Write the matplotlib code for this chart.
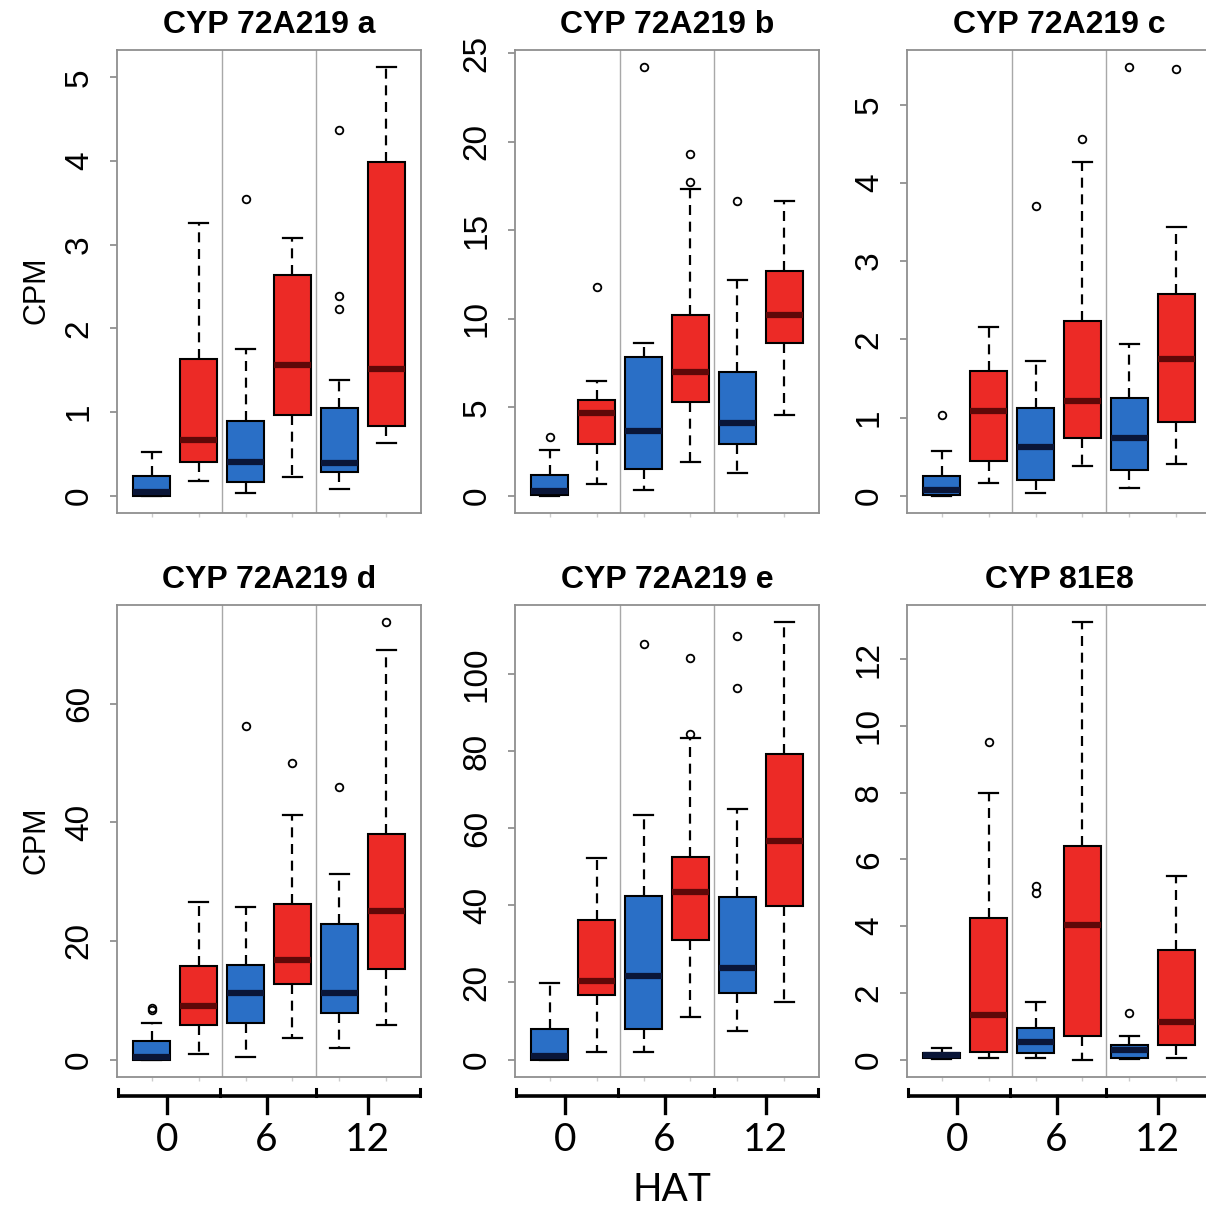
import numpy as np
import matplotlib
matplotlib.use("Agg")
import matplotlib.pyplot as plt

plt.rcParams['font.family'] = ['Liberation Sans', 'DejaVu Sans']

# box stats per panel: whisker low, Q1, median, Q3, whisker high
# order: 0 HAT blue, 0 HAT red, 6 blue, 6 red, 12 blue, 12 red
titles = ["CYP 72A219 a", "CYP 72A219 b", "CYP 72A219 c",
          "CYP 72A219 d", "CYP 72A219 e", "CYP 81E8"]

a_box = [[0.0, 0.0, 0.05, 0.24, 0.52],
         [0.18, 0.41, 0.67, 1.63, 3.26],
         [0.03, 0.17, 0.40, 0.89, 1.75],
         [0.23, 0.96, 1.56, 2.64, 3.08],
         [0.08, 0.29, 0.39, 1.05, 1.38],
         [0.63, 0.84, 1.52, 3.99, 5.12]]
a_out = [[], [], [3.54], [], [2.23, 2.39, 4.37], []]

b_box = [[0.0, 0.05, 0.25, 1.18, 2.6],
         [0.68, 2.9, 4.7, 5.4, 6.47],
         [0.34, 1.5, 3.66, 7.84, 8.65],
         [1.93, 5.3, 7.0, 10.2, 17.3],
         [1.28, 2.9, 4.13, 7.0, 12.2],
         [4.56, 8.63, 10.2, 12.7, 16.66]]
b_out = [[3.34], [11.8], [24.2], [17.7, 19.3], [16.66], []]

c_box = [[0.0, 0.01, 0.08, 0.25, 0.57],
         [0.16, 0.44, 1.09, 1.59, 2.16],
         [0.04, 0.2, 0.63, 1.12, 1.73],
         [0.38, 0.74, 1.21, 2.24, 4.27],
         [0.1, 0.33, 0.74, 1.25, 1.94],
         [0.41, 0.95, 1.75, 2.58, 3.44]]
c_out = [[1.03], [], [3.7], [4.56], [5.48], [5.46]]

d_box = [[0.0, 0.0, 0.5, 3.2, 6.1],
         [0.85, 5.8, 9.0, 15.8, 26.6],
         [0.35, 6.1, 11.2, 15.9, 25.7],
         [3.7, 12.7, 16.7, 26.3, 41.3],
         [1.9, 7.9, 11.2, 22.9, 31.3],
         [5.8, 15.3, 25.0, 38.1, 69.1]]
d_out = [[8.3, 8.75], [], [56.2], [50.0], [45.9], [73.7]]

e_box = [[0.0, 0.0, 0.9, 8.0, 19.8],
         [2.0, 16.7, 20.5, 36.2, 52.2],
         [2.0, 7.8, 21.6, 42.4, 63.4],
         [11.0, 30.9, 43.5, 52.5, 83.4],
         [7.4, 17.3, 23.8, 42.2, 65.0],
         [14.8, 39.9, 56.6, 79.3, 113.4]]
e_out = [[], [], [107.8], [84.5, 104.2], [96.5, 110.0], []]

f_box = [[0.02, 0.04, 0.13, 0.2, 0.35],
         [0.04, 0.23, 1.32, 4.25, 7.98],
         [0.04, 0.2, 0.52, 0.94, 1.71],
         [0.0, 0.69, 4.02, 6.41, 13.1],
         [0.02, 0.04, 0.29, 0.44, 0.7],
         [0.04, 0.45, 1.11, 3.27, 5.5]]
f_out = [[], [9.52], [5.0, 5.2], [], [1.39], []]

yticks = [[0, 1, 2, 3, 4, 5], [0, 5, 10, 15, 20, 25], [0, 1, 2, 3, 4, 5],
          [0, 20, 40, 60], [0, 20, 40, 60, 80, 100], [0, 2, 4, 6, 8, 10, 12]]
hat_labels = ["0", "6", "12"]

panels = [(a_box, a_out), (b_box, b_out), (c_box, c_out),
          (d_box, d_out), (e_box, e_out), (f_box, f_out)]

blue = "#2a6fc6"
red = "#ec2a26"
fills = [blue, red] * 3
medcols = ["#0a1638", "#5e0808"] * 3

W, H = 1206, 1214
fig = plt.figure(figsize=(W / 100, H / 100), dpi=100)
lefts = [117, 515, 907]
rows = [(50, 513), (605, 1077)]
wpx = 304

for i, (box, out) in enumerate(panels):
    r, c = divmod(i, 3)
    top, bot = rows[r]
    ax = fig.add_axes([lefts[c] / W, 1 - bot / H, wpx / W, (bot - top) / H])
    stats = []
    for b, o in zip(box, out):
        stats.append(dict(whislo=b[0], q1=b[1], med=b[2], q3=b[3],
                          whishi=b[4], fliers=o))
    res = ax.bxp(stats, positions=range(1, 7), widths=0.8, capwidths=0.4,
                 patch_artist=True,
                 boxprops=dict(edgecolor="black", linewidth=1.5),
                 whiskerprops=dict(color="black", linewidth=1.6,
                                   linestyle=(0, (4.5, 3))),
                 capprops=dict(color="black", linewidth=1.6),
                 medianprops=dict(linewidth=4.5, solid_capstyle="butt"),
                 flierprops=dict(marker="o", markersize=5.5,
                                 markerfacecolor="none",
                                 markeredgecolor="black",
                                 markeredgewidth=1.3))
    for patch, col in zip(res["boxes"], fills):
        patch.set_facecolor(col)
    for med, col in zip(res["medians"], medcols):
        med.set_color(col)

    vals = [v for b in box for v in b] + [v for o in out for v in o]
    lo, hi = min(vals), max(vals)
    pad = 0.04 * (hi - lo)
    ax.set_ylim(lo - pad, hi + pad)
    ax.set_xlim(0.26, 6.74)
    ax.axvline(2.5, color="#a8a8a8", lw=1, zorder=0)
    ax.axvline(4.5, color="#a8a8a8", lw=1, zorder=0)

    ax.set_yticks(yticks[i])
    ax.set_yticklabels([str(t) for t in yticks[i]], rotation=90, va="center")
    ax.tick_params(axis="y", length=5, color="#888888", width=1.2,
                   labelsize=24, pad=11)
    ax.set_xticks(range(1, 7))
    ax.set_xticklabels([])
    ax.tick_params(axis="x", length=3, color="#cccccc", width=1)
    for s in ax.spines.values():
        s.set_color("#8f8f8f")
        s.set_linewidth(1.3)

    ax.set_title(titles[i], fontsize=23, fontweight="bold", pad=12)

    if r == 1:
        tr = ax.get_xaxis_transform()
        yb = -0.04
        ax.plot([0.26, 6.74], [yb, yb], color="black", lw=2.6,
                transform=tr, clip_on=False, solid_capstyle="butt")
        for xs in [0.28, 2.45, 4.5, 6.72]:
            ax.plot([xs, xs], [yb, yb + 0.014], color="black", lw=2.2,
                    transform=tr, clip_on=False)
        for xs, lab in zip([1.32, 3.45, 5.6], hat_labels):
            ax.plot([xs, xs], [yb, yb - 0.036], color="black", lw=2.4,
                    transform=tr, clip_on=False)
            ax.text(xs, -0.134, lab, transform=tr, ha="center", va="center",
                    fontsize=28, family=["Lato", "DejaVu Sans"])

fig.text(36 / W, 1 - 290 / H, "CPM", rotation=90, ha="center", va="center",
         fontsize=22)
fig.text(36 / W, 1 - 840 / H, "CPM", rotation=90, ha="center", va="center",
         fontsize=22)
fig.text(672 / W, 1 - 1190 / H, "HAT", ha="center", va="center",
         fontsize=28, family=["Lato", "DejaVu Sans"])

fig.savefig("out.png", dpi=100, facecolor="white")
